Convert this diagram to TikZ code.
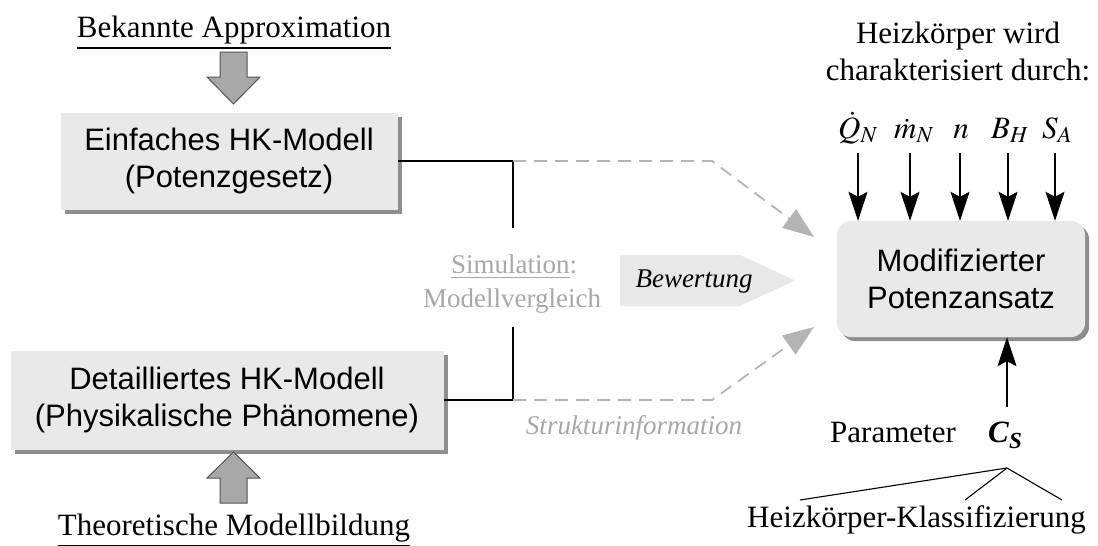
\documentclass[tikz,border=0pt]{standalone}
\usepackage{mathptmx}
\usepackage[no-math]{fontspec}
\setmainfont{Liberation Serif}
\setsansfont{Liberation Sans}
\usetikzlibrary{arrows.meta,shadows}
\definecolor{boxfill}{HTML}{E9E9E9}
\definecolor{shadowc}{HTML}{8E8E8E}
\definecolor{dashc}{HTML}{B4B4B4}
\definecolor{graytext}{HTML}{A8A8A8}
\definecolor{blockfill}{HTML}{A8A8A8}
\definecolor{blockline}{HTML}{555555}
\definecolor{bewfill}{HTML}{E8E8E8}
\begin{document}
\begin{tikzpicture}[x=1pt,y=-1pt,
  model/.style={fill=boxfill, draw=none, inner sep=0pt, align=center,
    font=\sffamily\fontsize{31}{37.5}\selectfont,
    drop shadow={shadow xshift=4pt, shadow yshift=-4pt, fill=shadowc, opacity=1}},
  serif/.style={inner sep=0pt, font=\rmfamily\fontsize{31}{37}\selectfont},
  graylbl/.style={inner sep=0pt, text=graytext, font=\rmfamily\fontsize{27}{32}\selectfont},
  sym/.style={inner sep=0pt, anchor=base, font=\fontsize{31}{37}\selectfont},
  conn/.style={line width=1.8pt, black},
  dashconn/.style={line width=1.8pt, dashc, dash pattern=on 13pt off 8pt,
    -{Triangle[length=31pt,width=23pt,fill=dashc]}},
  inarrow/.style={line width=1.2pt, black, -{Stealth[length=29pt,width=19pt,inset=5pt]}},
  blockarrow/.style={fill=blockfill, draw=blockline, line width=1pt},
  treeline/.style={line width=1.1pt, black}
]
\useasboundingbox (0,0) rectangle (1098,546);

% top-left label and block arrow
\node[serif, anchor=base] (approx) at (234,37) {\underline{Bekannte Approximation}};
\draw[blockarrow] (220,52) -- (247,52) -- (247,77) -- (260,77) -- (233.5,104) -- (207,77) -- (220,77) -- cycle;

% model boxes
\node[model, minimum width=337pt, minimum height=97pt] (simple) at (229,161) {Einfaches HK-Modell\\(Potenzgesetz)};
\node[model, minimum width=433pt, minimum height=99pt] (detail) at (227,400) {Detailliertes HK-Modell\\(Physikalische Ph\"anomene)};

% bottom-left label and block arrow
\draw[blockarrow] (220,503) -- (247,503) -- (247,478) -- (260,478) -- (233.5,452) -- (207,478) -- (220,478) -- cycle;
\node[serif, anchor=base] (theory) at (234,535) {\underline{Theoretische Modellbildung}};

% modified approach box
\node[model, rounded corners=14pt, minimum width=248pt, minimum height=116pt] (mod) at (961,279) {Modifizierter\\Potenzansatz};

% connectors from the models
\coordinate (j1) at (513,161);
\coordinate (j1b) at (513,228);
\coordinate (d1) at (712,161);
\coordinate (t1) at (814,237);
\coordinate (j2) at (513,400);
\coordinate (j2b) at (513,327);
\coordinate (d2) at (712,400);
\coordinate (t2) at (814,327);
\draw[conn] (simple.east) -- (j1) -- (j1b);
\draw[conn] (detail.east) -- (j2) -- (j2b);
\draw[dashconn] (j1) -- (d1) -- (t1);
\draw[dashconn] (j2) -- (d2) -- (t2);

% simulation labels
\node[graylbl] (sim) at (514,267) {\underline{Simulation}:};
\node[graylbl] (vgl) at (512,301) {Modellvergleich};
\node[graylbl, font=\rmfamily\itshape\fontsize{27}{32}\selectfont] (struct) at (634,428) {Strukturinformation};

% Bewertung arrow
\fill[bewfill] (620,255) -- (740,255) -- (795,280.5) -- (740,306) -- (620,306) -- cycle;
\node[inner sep=0pt, font=\rmfamily\itshape\fontsize{27}{32}\selectfont] (bew) at (694,282) {Bewertung};

% characteristics
\node[serif, anchor=base] (hk1) at (958,43) {Heizk\"orper wird};
\node[serif, anchor=base] (hk2) at (958,80) {charakterisiert durch:};
\node[sym] (sQ) at (858,138) {$\dot{Q}_{N}$};
\node[sym] (sm) at (914,138) {$\dot{m}_{N}$};
\node[sym] (sn) at (961,138) {$n$};
\node[sym] (sB) at (1010,138) {$B_{H}$};
\node[sym] (sS) at (1057,138) {$S_{A}$};
\foreach \n/\x in {sQ/858, sm/910, sn/960, sB/1008, sS/1055} {
  \coordinate (\n top) at (\x,153);
  \draw[inarrow] (\n top) -- (\n top |- mod.north);
}

% parameter
\node[serif, anchor=base west] (param) at (830,442) {Parameter};
\node[serif, anchor=base west] (cs) at (988,442) {\textbf{\textit{C}}\raisebox{-6pt}{\fontsize{23}{23}\selectfont\bfseries\itshape S}};
\coordinate (cstop) at (1007,407);
\draw[inarrow] (cstop) -- (cstop |- mod.south);

% classification tree
\coordinate (apex) at (1007,468);
\coordinate (l1) at (800,500);
\coordinate (l2) at (965,500);
\coordinate (l3) at (1062,500);
\draw[treeline] (apex) -- (l1);
\draw[treeline] (apex) -- (l2);
\draw[treeline] (apex) -- (l3);
\node[serif, anchor=base] (klass) at (916.5,527) {Heizk\"orper-Klassifizierung};
\end{tikzpicture}
\end{document}
